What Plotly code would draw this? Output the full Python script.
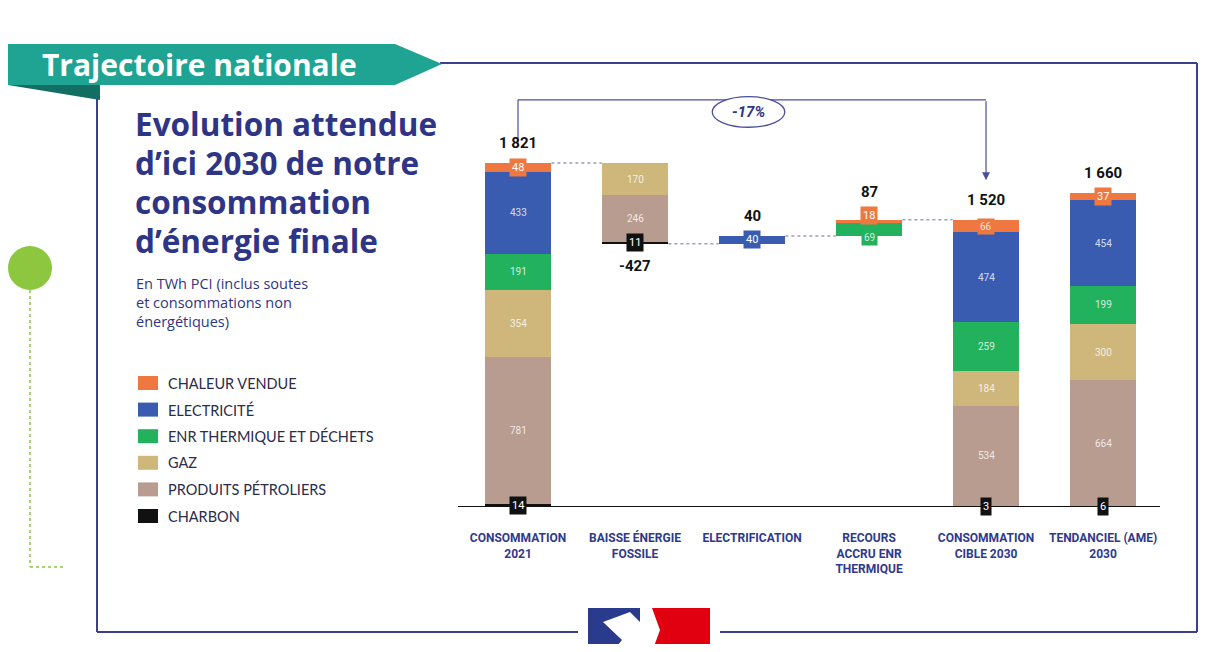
import plotly.graph_objects as go

# ---------------- data ----------------
categories = ["CONSOMMATION<br>2021", "BAISSE ÉNERGIE<br>FOSSILE", "ELECTRIFICATION",
              "RECOURS<br>ACCRU ENR<br>THERMIQUE", "CONSOMMATION<br>CIBLE 2030", "TENDANCIEL (AME)<br>2030"]
kinds = ["total", "delta", "delta", "delta", "total", "total"]
series_names = ["CHARBON", "PRODUITS PÉTROLIERS", "GAZ", "ENR THERMIQUE ET DÉCHETS", "ELECTRICITÉ", "CHALEUR VENDUE"]
charbon = [14, -11, 0, 0, 3, 6]
petrole = [781, -246, 0, 0, 534, 664]
gaz = [354, -170, 0, 0, 184, 300]
enr = [191, 0, 0, 69, 259, 199]
elec = [433, 0, 40, 0, 474, 454]
chaleur = [48, 0, 0, 18, 66, 37]
totals = [1821, -427, 40, 87, 1520, 1660]
total_labels = ["1 821", "-427", "40", "87", "1 520", "1 660"]
colors = ["#111111", "#B99C90", "#CFB77C", "#22B25E", "#3A5CB0", "#EE7840"]

series = [charbon, petrole, gaz, enr, elec, chaleur]

# ---------------- layout constants ----------------
OFF = 8  # page body margin
W, H = 1200, 636
L = 458 - OFF
R = W - (1160 - OFF)
T = 60 - OFF
B = H - (507 - OFF)
PW, PH = W - L - R, H - T - B
YMAX = 2366

def px(x):  # screen pixel -> paper
    return (x - OFF - L) / PW

def py(y):
    return ((507 - OFF) - (y - OFF)) / PH

NAVY = "#2F3585"

# ---------------- compute bar geometry ----------------
n = len(categories)
bases = [[0] * n for _ in series]
heights = [[0] * n for _ in series]
tops = [0] * n
bottoms = [0] * n
level = 0
for i in range(n):
    if kinds[i] == "total":
        b = 0
        for s in range(len(series)):
            bases[s][i] = b
            heights[s][i] = series[s][i]
            b += series[s][i]
        bottoms[i] = 0
        tops[i] = b
        level = b
    else:
        neg = sum(series[s][i] for s in range(len(series)) if series[s][i] < 0)
        b = level + neg
        bottoms[i] = b
        for s in range(len(series)):
            v = abs(series[s][i])
            bases[s][i] = b
            heights[s][i] = v
            b += v
        tops[i] = b
        level = level + sum(series[s][i] for s in range(len(series)))

fig = go.Figure()
xs = list(range(n))
for s in range(len(series)):
    fig.add_trace(go.Bar(
        x=xs, y=heights[s], base=bases[s], name=series_names[s],
        marker=dict(color=colors[s], line=dict(width=0)),
        width=0.57, showlegend=False, hoverinfo="skip"))

annotations = []
shapes = []

# segment labels
for s in range(len(series)):
    for i in range(n):
        v = series[s][i]
        if v == 0:
            continue
        h = heights[s][i]
        cy = bases[s][i] + h / 2
        small = h < 60
        shift = 0
        if i == 3:
            shift = 6 if s == 5 else -8
        annotations.append(dict(
            x=i, y=cy, xref="x", yref="y", text=str(abs(v)), showarrow=False, yshift=shift,
            font=dict(family="Roboto", size=11 if small else 10,
                      color="white" if small else "rgba(255,255,255,0.8)"),
            bgcolor=colors[s], borderpad=2))

# total labels
for i in range(n):
    if i == 1:
        annotations.append(dict(x=i, y=bottoms[i], xref="x", yref="y", text="<b>%s</b>" % total_labels[i],
                                showarrow=False, yanchor="top", yshift=-11,
                                font=dict(family="Roboto", size=15, color="#111")))
    else:
        shift = 17 if i == 3 else 9
        annotations.append(dict(x=i, y=tops[i], xref="x", yref="y", text="<b>%s</b>" % total_labels[i],
                                showarrow=False, yanchor="bottom", yshift=shift,
                                font=dict(family="Roboto", size=15, color="#111")))

# dotted connectors
hw = 0.285
conn = [(0, tops[0]), (1, bottoms[1]), (2, tops[2]), (3, tops[3])]
for i, lvl in conn:
    shapes.append(dict(type="line", xref="x", yref="y", x0=i + hw, x1=i + 1 - hw, y0=lvl, y1=lvl,
                       line=dict(color="#9C9CC0", width=1.5, dash="dot")))

# bracket -17%
BR = 2155
shapes.append(dict(type="line", xref="x", yref="y", x0=0, x1=0, y0=tops[0] + 100, y1=BR,
                   line=dict(color="#4A4F9C", width=1.2)))
shapes.append(dict(type="line", xref="x", yref="y", x0=0, x1=4, y0=BR, y1=BR,
                   line=dict(color="#4A4F9C", width=1.2)))
annotations.append(dict(x=4, y=tops[4] + 210, ax=4, ay=BR, xref="x", yref="y", axref="x", ayref="y",
                        text="", showarrow=True, arrowhead=2, arrowsize=1.3, arrowwidth=1.2,
                        arrowcolor="#4A4F9C"))
shapes.append(dict(type="circle", xref="x", yref="y", x0=1.66, x1=2.28, y0=2010, y1=2172,
                   line=dict(color="#4A4F9C", width=1.3), fillcolor="white"))
annotations.append(dict(x=1.97, y=2091, xref="x", yref="y", text="<b><i>-17%</i></b>", showarrow=False,
                        font=dict(family="Roboto", size=15, color=NAVY)))

# baseline
shapes.append(dict(type="line", xref="paper", yref="y", x0=0, x1=1, y0=0, y1=0,
                   line=dict(color="#111", width=2)))

# ---------------- decorations (paper coords via screen pixels) ----------------
frame_col = "#3A3F8E"
RX = 1197
def hline(x0, x1, y):
    shapes.append(dict(type="line", xref="paper", yref="paper", x0=px(x0), x1=px(x1), y0=py(y), y1=py(y),
                       line=dict(color=frame_col, width=2)))
def vline(x, y0, y1):
    shapes.append(dict(type="line", xref="paper", yref="paper", x0=px(x), x1=px(x), y0=py(y0), y1=py(y1),
                       line=dict(color=frame_col, width=2)))
hline(440, RX, 63)
vline(RX, 63, 632)
vline(97, 85, 632)
hline(97, 578, 632)
hline(720, RX, 632)

def path(pts):
    return "M " + " L ".join("%f,%f" % (px(a), py(b)) for a, b in pts) + " Z"

shapes.append(dict(type="path", xref="paper", yref="paper",
                   path=path([(8, 85), (100, 85), (100, 100)]),
                   fillcolor="#126E62", line=dict(width=0)))
shapes.append(dict(type="path", xref="paper", yref="paper",
                   path=path([(8, 44), (395, 44), (442, 64), (395, 85), (8, 85)]),
                   fillcolor="#1FA392", line=dict(width=0)))
annotations.append(dict(x=px(40), y=py(64), xref="paper", yref="paper", xanchor="left", yanchor="middle",
                        text="<b>Trajectoire nationale</b>", showarrow=False,
                        font=dict(family="Open Sans", size=30, color="white")))

# title
title_lines = ["Evolution attendue", "d’ici 2030 de notre", "consommation", "d’énergie finale"]
for k, t in enumerate(title_lines):
    annotations.append(dict(x=px(133), y=py(123 + 39 * k), xref="paper", yref="paper", xanchor="left",
                            yanchor="middle", text="<b>%s</b>" % t, showarrow=False,
                            font=dict(family="Open Sans", size=31.5, color=NAVY)))
annotations.append(dict(x=px(134), y=py(302), xref="paper", yref="paper", xanchor="left",
                        yanchor="middle", align="left",
                        text="En TWh PCI (inclus soutes<br>et consommations non<br>énergétiques)",
                        showarrow=False, font=dict(family="Open Sans", size=14.5, color=NAVY)))

# legend
legend_order = [5, 4, 3, 2, 1, 0]
for k, s in enumerate(legend_order):
    yc = 383 + 26.6 * k
    shapes.append(dict(type="rect", xref="paper", yref="paper", x0=px(138), x1=px(158),
                       y0=py(yc - 7), y1=py(yc + 7), fillcolor=colors[s], line=dict(width=0)))
    annotations.append(dict(x=px(166), y=py(yc), xref="paper", yref="paper", xanchor="left", yanchor="middle",
                            text=series_names[s], showarrow=False,
                            font=dict(family="Lato", size=14.5, color="#2B2B4A")))

# green circle + dotted path
shapes.append(dict(type="circle", xref="paper", yref="paper", x0=px(8), x1=px(52), y0=py(246), y1=py(290),
                   fillcolor="#8DC63F", line=dict(width=0)))
shapes.append(dict(type="line", xref="paper", yref="paper", x0=px(30), x1=px(30), y0=py(290), y1=py(567),
                   line=dict(color="#8DC63F", width=1.5, dash="dot")))
shapes.append(dict(type="line", xref="paper", yref="paper", x0=px(30), x1=px(66), y0=py(567), y1=py(567),
                   line=dict(color="#8DC63F", width=1.5, dash="dot")))

# logo (Marianne approximation)
shapes.append(dict(type="path", xref="paper", yref="paper",
                   path=path([(588, 608), (640, 608), (640, 652), (588, 652)]),
                   fillcolor="#2A3A8C", line=dict(width=0)))
shapes.append(dict(type="path", xref="paper", yref="paper",
                   path=path([(603, 622), (630, 612), (640, 622), (640, 652), (612, 652), (622, 640)]),
                   fillcolor="white", line=dict(width=0)))
shapes.append(dict(type="path", xref="paper", yref="paper",
                   path=path([(652, 608), (710, 608), (710, 652), (652, 652), (660, 630)]),
                   fillcolor="#E1000F", line=dict(width=0)))

fig.update_layout(
    width=W, height=H,
    margin=dict(l=L, r=R, t=T, b=B),
    paper_bgcolor="white", plot_bgcolor="white",
    barmode="overlay", bargap=0,
    showlegend=False,
    xaxis=dict(range=[-0.513, 5.487], tickmode="array", tickvals=xs, ticktext=["<b>%s</b>" % c for c in categories],
               showgrid=False, zeroline=False, showline=False, ticks="", ticklabelstandoff=22,
               tickfont=dict(family="Roboto", size=12, color="#2E3A8C"), fixedrange=True),
    yaxis=dict(range=[0, YMAX], visible=False, fixedrange=True),
    shapes=shapes, annotations=annotations,
)

fig.write_html("out.html")
